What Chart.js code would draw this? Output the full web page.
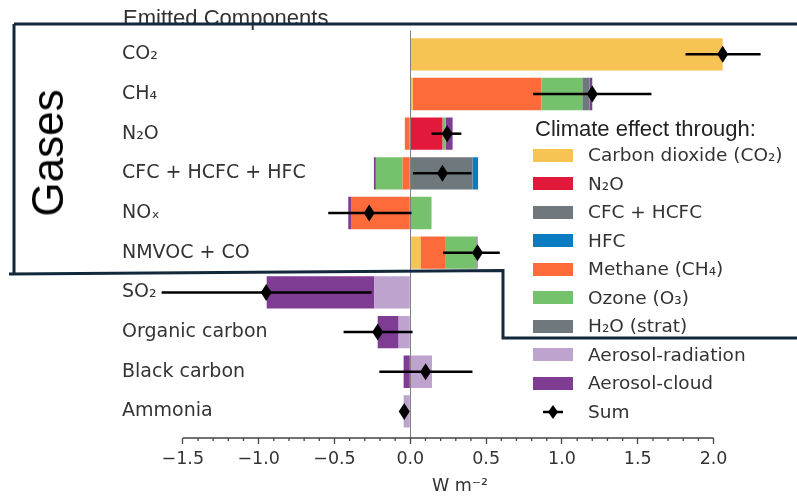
<!DOCTYPE html>
<html lang="en">

<head>
    <meta charset="UTF-8">
    <title>Emitted Components - ERF</title>
    <script src="https://cdn.jsdelivr.net/npm/chart.js"></script>
    <style>
        body { margin: 0; background: #fff; }
        .janela { position: relative; width: 797px; height: 496px; overflow: hidden; }
        #grafico { position: absolute; left: 0; top: 0; }
        .titulo { position: absolute; left: 123px; top: 7px; font: 22px "Liberation Sans", Arial, sans-serif; line-height: 22px; color: #333; white-space: nowrap; }
        .gases { position: absolute; left: 47.5px; top: 152.5px; font: 44px "Liberation Sans", Arial, sans-serif; line-height: 44px; color: #000; transform: translate(-50%, -50%) rotate(-90deg); white-space: nowrap; }
        .unidade { position: absolute; left: 460px; top: 474px; transform: translateX(-50%); font: 17.5px "DejaVu Sans", sans-serif; line-height: 22px; color: #333; white-space: nowrap; }
        .legenda-titulo { position: absolute; left: 535px; top: 118px; font: 22px "Liberation Sans", Arial, sans-serif; line-height: 22px; color: #222; white-space: nowrap; }
        .item { position: absolute; left: 533px; height: 22px; display: flex; align-items: center; font: 18.5px "DejaVu Sans", sans-serif; line-height: 22px; color: #333; white-space: nowrap; }
        .item .patch { width: 40px; height: 13px; margin-right: 15px; }
        .item .soma { width: 40px; height: 22px; margin-right: 15px; }
        svg.contorno { position: absolute; left: 0; top: 0; }
    </style>
</head>

<body>
    <div class="janela">
        <canvas id="grafico" width="797" height="496"></canvas>
        <div class="titulo">Emitted Components</div>
        <div class="gases">Gases</div>
        <div class="unidade">W m⁻²</div>
        <div class="legenda-titulo">Climate effect through:</div>
        <div id="legenda"></div>
        <svg class="contorno" width="797" height="496">
            <path d="M14 24 L800 24 M14 24 L14 273 M9 274 L503 270.5 L503 338 L800 338"
                fill="none" stroke="#11293a" stroke-width="3" />
        </svg>
    </div>

<script>
    // emitted components (rows, top to bottom)
    const componentes = ['CO₂', 'CH₄', 'N₂O', 'CFC + HCFC + HFC', 'NOₓ', 'NMVOC + CO',
        'SO₂', 'Organic carbon', 'Black carbon', 'Ammonia'];

    // climate effect through ... (W m-2), one value per component
    const viaCO2      = [2.06, 0.018, 0, 0, 0, 0.067, 0, 0, 0, 0];
    const viaN2O      = [0, 0, 0.212, 0, 0, 0, 0, 0, 0, 0];
    const viaCFC      = [0, 0, 0, 0.41, 0, 0, 0, 0, 0, 0];
    const viaHFC      = [0, 0, 0, 0.037, 0, 0, 0, 0, 0, 0];
    const viaCH4      = [0, 0.846, -0.036, -0.051, -0.387, 0.167, 0, 0, 0, 0];
    const viaO3       = [0, 0.27, 0.022, -0.176, 0.14, 0.202, 0, 0, 0, 0];
    const viaH2O      = [0, 0.048, 0, 0, 0, 0, 0, 0, 0, 0];
    const viaAerRad   = [0, 0, 0, 0, 0, 0, -0.237, -0.077, 0.143, -0.044];
    const viaAerCloud = [0, 0.018, 0.045, -0.013, -0.022, 0.007, -0.71, -0.138, -0.044, 0];

    // sum with uncertainty range
    const soma    = [2.06, 1.2, 0.243, 0.212, -0.271, 0.443, -0.95, -0.215, 0.101, -0.04];
    const somaMin = [1.815, 0.81, 0.14, 0.018, -0.541, 0.216, -1.64, -0.44, -0.204, -0.045];
    const somaMax = [2.31, 1.59, 0.337, 0.403, 0.008, 0.59, -0.255, 0.015, 0.41, -0.035];

    const xTicks = [-1.5, -1.0, -0.5, 0.0, 0.5, 1.0, 1.5, 2.0];

    const efeitos = [
        { nome: 'Carbon dioxide (CO₂)', cor: '#f7c352', valores: viaCO2 },
        { nome: 'N₂O', cor: '#e3193c', valores: viaN2O },
        { nome: 'CFC + HCFC', cor: '#6e787d', valores: viaCFC },
        { nome: 'HFC', cor: '#0b7cc1', valores: viaHFC },
        { nome: 'Methane (CH₄)', cor: '#fd6b3a', valores: viaCH4 },
        { nome: 'Ozone (O₃)', cor: '#76c16c', valores: viaO3 },
        { nome: 'H₂O (strat)', cor: '#6f797d', valores: viaH2O },
        { nome: 'Aerosol-radiation', cor: '#bfa3cf', valores: viaAerRad },
        { nome: 'Aerosol-cloud', cor: '#7e3c93', valores: viaAerCloud },
    ];

    const datasets = efeitos.map(e => ({
        label: e.nome,
        backgroundColor: e.cor,
        borderWidth: 0,
        barPercentage: 0.815,
        categoryPercentage: 1,
        data: e.valores.map((v, i) => ({ x: v === 0 ? null : v, y: i }))
    }));

    function losango(ctx, x, y, w, h) {
        ctx.beginPath();
        ctx.moveTo(x, y - h / 2);
        ctx.lineTo(x + w / 2, y);
        ctx.lineTo(x, y + h / 2);
        ctx.lineTo(x - w / 2, y);
        ctx.closePath();
        ctx.fill();
    }

    // zero line, spine, minor ticks, error bars and sum markers
    const extras = {
        id: 'extras',
        afterDatasetsDraw(chart) {
            const ctx = chart.ctx;
            const sx = chart.scales.x, sy = chart.scales.y;
            const area = chart.chartArea;
            ctx.save();

            const x0 = Math.round(sx.getPixelForValue(0)) + 0.5;
            ctx.strokeStyle = '#808080';
            ctx.lineWidth = 1;
            ctx.beginPath();
            ctx.moveTo(x0, area.top);
            ctx.lineTo(x0, area.bottom);
            ctx.stroke();

            ctx.strokeStyle = '#444';
            ctx.lineWidth = 1.3;
            ctx.beginPath();
            ctx.moveTo(sx.getPixelForValue(-1.5), area.bottom);
            ctx.lineTo(sx.getPixelForValue(2.0), area.bottom);
            for (let k = -15; k <= 20; k++) {
                if (k % 5 === 0) continue;
                const px = sx.getPixelForValue(k / 10);
                ctx.moveTo(px, area.bottom);
                ctx.lineTo(px, area.bottom + 3);
            }
            ctx.stroke();

            ctx.strokeStyle = '#000';
            ctx.fillStyle = '#000';
            ctx.lineWidth = 2.5;
            soma.forEach((s, i) => {
                const py = sy.getPixelForValue(i);
                ctx.beginPath();
                ctx.moveTo(sx.getPixelForValue(somaMin[i]), py);
                ctx.lineTo(sx.getPixelForValue(somaMax[i]), py);
                ctx.stroke();
                losango(ctx, sx.getPixelForValue(s), py, 11, 17);
            });
            ctx.restore();
        }
    };

    Chart.defaults.font.family = '"DejaVu Sans", sans-serif';
    Chart.defaults.color = '#333';

    new Chart(document.getElementById('grafico'), {
        type: 'bar',
        data: { datasets: datasets },
        options: {
            indexAxis: 'y',
            responsive: false,
            animation: false,
            layout: { padding: { left: 92, right: 0, top: 30.5, bottom: 0 } },
            plugins: {
                legend: { display: false },
                tooltip: { enabled: false }
            },
            scales: {
                x: {
                    type: 'linear',
                    stacked: true,
                    min: -2.0,
                    max: 2.55,
                    afterBuildTicks: s => { s.ticks = xTicks.map(v => ({ value: v })); },
                    afterFit: s => { s.height = 58; },
                    grid: { drawOnChartArea: false, drawTicks: true, tickLength: 6, tickColor: '#444', tickWidth: 1.3 },
                    border: { display: false },
                    ticks: {
                        autoSkip: false,
                        maxRotation: 0,
                        padding: 5,
                        font: { size: 17.5 },
                        color: '#333',
                        callback: v => v.toFixed(1).replace('-', '−')
                    }
                },
                y: {
                    type: 'linear',
                    stacked: true,
                    reverse: true,
                    offset: false,
                    min: -0.6,
                    max: 9.67,
                    afterBuildTicks: s => { s.ticks = componentes.map((c, i) => ({ value: i })); },
                    afterFit: s => { s.width = 15; },
                    grid: { display: false },
                    border: { display: false },
                    ticks: {
                        mirror: true,
                        autoSkip: false,
                        padding: 15,
                        font: { size: 19 },
                        color: '#333',
                        callback: v => componentes[v]
                    }
                }
            }
        },
        plugins: [extras]
    });

    // legend built from the same effect list
    const legenda = document.getElementById('legenda');
    const linhas = efeitos.map(e => ({ nome: e.nome, cor: e.cor })).concat([{ nome: 'Sum', cor: null }]);
    linhas.forEach((l, i) => {
        const yc = 155 + 28.5 * i;
        const marca = l.cor
            ? `<div class="patch" style="background:${l.cor}"></div>`
            : `<svg class="soma" viewBox="0 0 40 22"><path d="M10 11 L30 11" stroke="#000" stroke-width="2.5"/><path d="M20 4 L25 11 L20 18 L15 11 Z" fill="#000"/></svg>`;
        legenda.innerHTML += `<div class="item" style="top:${yc - 11}px">${marca}<span>${l.nome}</span></div>`;
    });
</script>
</body>

</html>
